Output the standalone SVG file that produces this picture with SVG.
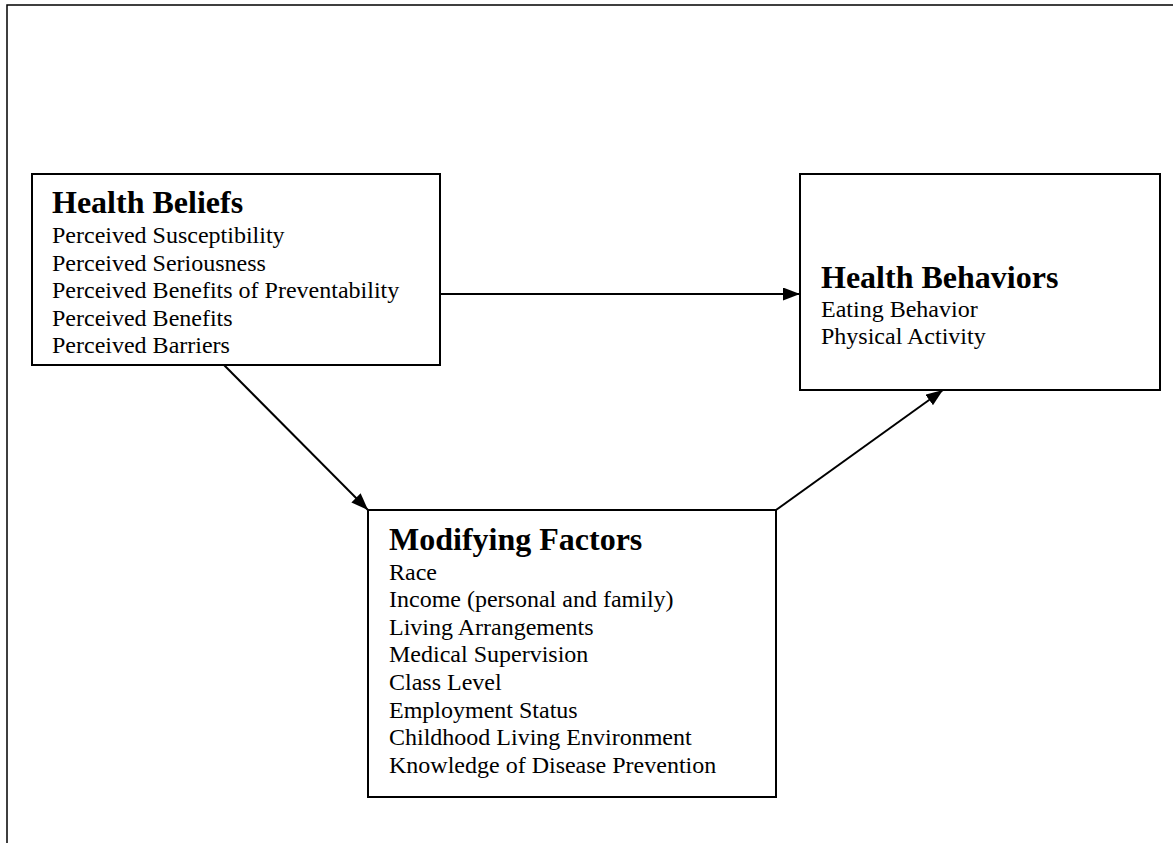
<svg xmlns="http://www.w3.org/2000/svg" width="1173" height="843" viewBox="0 0 1173 843">
  <defs>
    <marker id="arrow" viewBox="0 0 17 13" refX="17" refY="6.5" markerWidth="17" markerHeight="13" markerUnits="userSpaceOnUse" orient="auto">
      <path d="M0,0 L17,6.5 L0,13 Z" fill="#000"/>
    </marker>
  </defs>
  <style>
    .box { fill: #fff; stroke: #000; stroke-width: 2; }
    .title { font-family: "Liberation Serif", "Times New Roman", serif; font-size: 32px; font-weight: bold; fill: #000; }
    .item { font-family: "Liberation Serif", "Times New Roman", serif; font-size: 24px; fill: #000; }
    .link { fill: none; stroke: #000; stroke-width: 2; marker-end: url(#arrow); }
    .frame { fill: none; stroke: #000; stroke-width: 1.5; }
  </style>

  <rect width="1173" height="843" fill="#fff"/>

  <!-- page frame -->
  <path class="frame" d="M7,843 L7,5 L1173,5"/>

  <!-- connectors -->
  <g id="connectors">
    <line class="link" x1="440" y1="294" x2="800" y2="294"/>
    <line class="link" x1="224" y1="365" x2="368" y2="510"/>
    <line class="link" x1="776" y1="510" x2="943" y2="390"/>
  </g>

  <g id="health-beliefs">
    <rect class="box" x="32" y="174" width="408" height="191"/>
    <text class="title" x="52" y="213">Health Beliefs</text>
    <text class="item" x="52" y="243">Perceived Susceptibility</text>
    <text class="item" x="52" y="270.5">Perceived Seriousness</text>
    <text class="item" x="52" y="298">Perceived Benefits of Preventability</text>
    <text class="item" x="52" y="325.5">Perceived Benefits</text>
    <text class="item" x="52" y="353">Perceived Barriers</text>
  </g>

  <g id="health-behaviors">
    <rect class="box" x="800" y="174" width="360" height="216"/>
    <text class="title" x="821" y="288">Health Behaviors</text>
    <text class="item" x="821" y="316.5">Eating Behavior</text>
    <text class="item" x="821" y="344">Physical Activity</text>
  </g>

  <g id="modifying-factors">
    <rect class="box" x="368" y="510" width="408" height="287"/>
    <text class="title" x="389" y="550">Modifying Factors</text>
    <text class="item" x="389" y="579.5">Race</text>
    <text class="item" x="389" y="607">Income (personal and family)</text>
    <text class="item" x="389" y="634.5">Living Arrangements</text>
    <text class="item" x="389" y="662">Medical Supervision</text>
    <text class="item" x="389" y="690">Class Level</text>
    <text class="item" x="389" y="717.5">Employment Status</text>
    <text class="item" x="389" y="745">Childhood Living Environment</text>
    <text class="item" x="389" y="773">Knowledge of Disease Prevention</text>
  </g>
</svg>
